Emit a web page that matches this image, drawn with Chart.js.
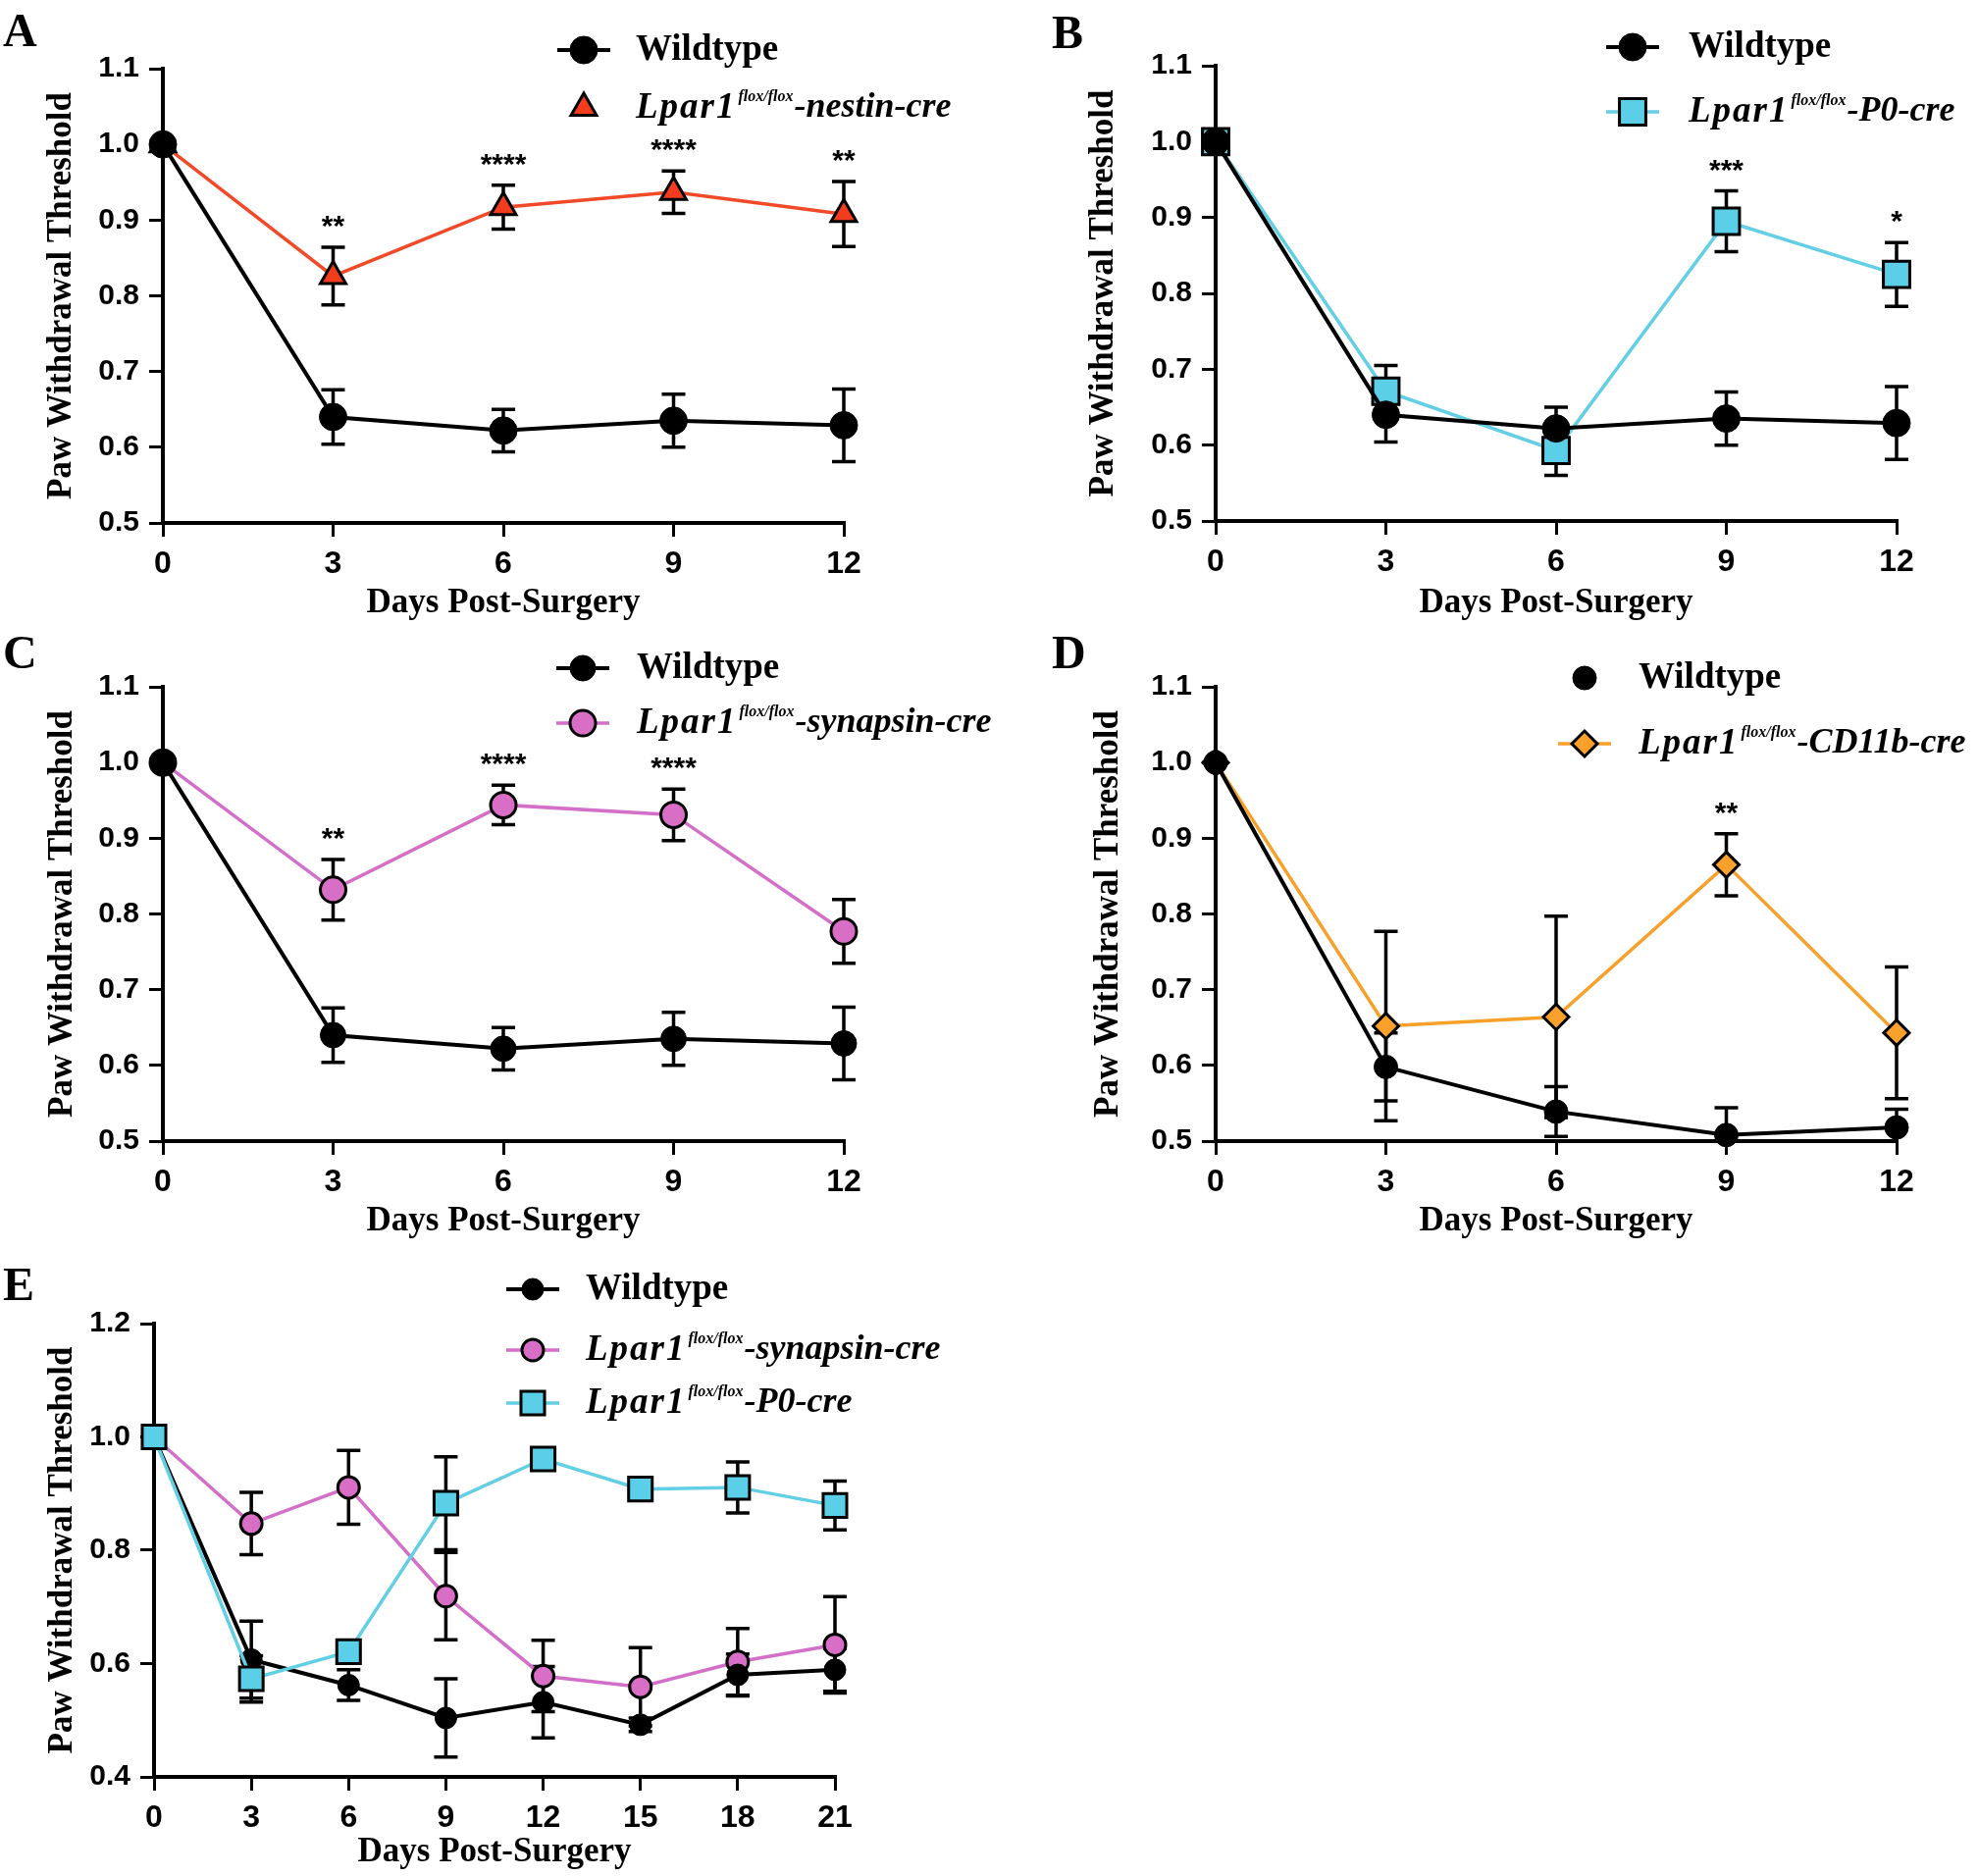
<!DOCTYPE html>
<html>
<head>
<meta charset="utf-8">
<title>Paw withdrawal threshold after surgery</title>
<script src="https://cdn.jsdelivr.net/npm/chart.js@4.4.1/dist/chart.umd.min.js"></script>
<style>
  html, body { margin: 0; padding: 0; background: #ffffff; }
  #figure { position: relative; width: 2016px; height: 1912px; overflow: hidden; background: #ffffff; }
  #figure canvas { position: absolute; }
</style>
</head>
<body>
<div id="figure">
  <canvas id="panel-a" width="1008" height="640" style="left:0px;top:0px"></canvas>
  <canvas id="panel-b" width="1008" height="640" style="left:1008px;top:0px"></canvas>
  <canvas id="panel-c" width="1040" height="640" style="left:0px;top:630px"></canvas>
  <canvas id="panel-d" width="1008" height="640" style="left:1008px;top:630px"></canvas>
  <canvas id="panel-e" width="1008" height="642" style="left:0px;top:1270px"></canvas>
</div>
<script>
'use strict';

// ******** DATA ************************************
let daysShort = [0, 3, 6, 9, 12];
let daysLong = [0, 3, 6, 9, 12, 15, 18, 21];
let yTicksShort = [0.5, 0.6, 0.7, 0.8, 0.9, 1.0, 1.1];
let yTicksLong = [0.4, 0.6, 0.8, 1.0, 1.2];

let wildtypeLabel = 'Wildtype';
let nestinLabel = 'Lpar1flox/flox-nestin-cre';
let p0Label = 'Lpar1flox/flox-P0-cre';
let synapsinLabel = 'Lpar1flox/flox-synapsin-cre';
let cd11bLabel = 'Lpar1flox/flox-CD11b-cre';

// A, B, C share the same wildtype group
let wildtypeMean = [1.0, 0.640, 0.622, 0.635, 0.629];
let wildtypeSem = [0, 0.036, 0.028, 0.035, 0.048];

// A
let nestinMean = [1.0, 0.826, 0.917, 0.937, 0.908];
let nestinSem = [0, 0.038, 0.029, 0.028, 0.043];
let nestinSig = ['', '**', '****', '****', '**'];

// B
let p0Mean = [1.0, 0.671, 0.593, 0.895, 0.825];
let p0Sem = [0, 0.034, 0.033, 0.040, 0.042];
let p0Sig = ['', '', '', '***', '*'];

// C
let synapsinMean = [1.0, 0.832, 0.944, 0.931, 0.777];
let synapsinSem = [0, 0.040, 0.026, 0.034, 0.042];
let synapsinSig = ['', '**', '****', '****', ''];

// D
let cd11bWildtypeMean = [1.0, 0.598, 0.539, 0.508, 0.518];
let cd11bWildtypeSem = [0, 0.045, 0.033, 0.036, 0.024];
let cd11bMean = [1.0, 0.652, 0.664, 0.865, 0.643];
let cd11bSem = [0, 0.125, 0.133, 0.041, 0.087];
let cd11bSig = ['', '', '', '**', ''];

// E (21 day time course)
let longWildtypeMean = [1.0, 0.607, 0.562, 0.504, 0.532, 0.492, 0.580, 0.589];
let longWildtypeSem = [0, 0.068, 0.027, 0.069, 0.063, 0.012, 0.037, 0.038];
let longSynapsinMean = [1.0, 0.847, 0.911, 0.719, 0.578, 0.559, 0.603, 0.633];
let longSynapsinSem = [0, 0.055, 0.065, 0.077, 0.063, 0.069, 0.059, 0.085];
let longP0Mean = [1.0, 0.573, 0.621, 0.883, 0.961, 0.908, 0.911, 0.879];
let longP0Sem = [0, 0.041, 0.020, 0.082, 0.010, 0.010, 0.045, 0.043];

// ******** STYLE **************
const SERIF = '"Liberation Serif", "Times New Roman", serif';
const SANS = '"Liberation Sans", Arial, sans-serif';

Chart.defaults.color = '#000000';
Chart.defaults.font.family = SANS;

let looks = {
  wildtype: { line: '#000000', fill: '#000000', shape: 'circle', radius: 13, width: 4, edge: 1 },
  nestin: { line: '#f04a28', fill: '#f23c1e', shape: 'triangle', radius: 15, width: 3.5, edge: 3 },
  p0: { line: '#62cfe4', fill: '#5ccfe8', shape: 'rect', radius: 19, width: 3.5, edge: 3 },
  synapsin: { line: '#d36fc8', fill: '#d86ec6', shape: 'circle', radius: 12, width: 3.5, edge: 3 },
  cd11b: { line: '#f7a12a', fill: '#f9a12b', shape: 'rectRot', radius: 13, width: 3.5, edge: 3 }
};

// ********* HELPERS ****************

function drawMarker(ctx, shape, x, y, r) {
  ctx.beginPath();
  if (shape === 'triangle') {
    for (let k = 0; k < 3; k++) {
      let a = k * 2 * Math.PI / 3;
      let px = x + Math.sin(a) * r;
      let py = y - Math.cos(a) * r;
      if (k === 0) ctx.moveTo(px, py); else ctx.lineTo(px, py);
    }
    ctx.closePath();
  } else if (shape === 'rect') {
    let s = r * Math.SQRT1_2;
    ctx.rect(x - s, y - s, 2 * s, 2 * s);
  } else if (shape === 'rectRot') {
    ctx.moveTo(x - r, y);
    ctx.lineTo(x, y - r);
    ctx.lineTo(x + r, y);
    ctx.lineTo(x, y + r);
    ctx.closePath();
  } else {
    ctx.arc(x, y, r, 0, Math.PI * 2);
  }
  ctx.fill();
  ctx.stroke();
}

// genotype names get a superscript "flox/flox"
function drawLabel(ctx, text, x, y) {
  let m = text.match(/^(Lpar1)(flox\/flox)(.*)$/);
  ctx.textBaseline = 'middle';
  ctx.textAlign = 'left';
  ctx.fillStyle = '#000000';
  if (!m) {
    ctx.font = 'bold 37px ' + SERIF;
    ctx.fillText(text, x, y);
    return;
  }
  ctx.font = 'italic bold 37px ' + SERIF;
  ctx.letterSpacing = '2px';
  ctx.fillText(m[1], x, y);
  x += ctx.measureText(m[1]).width + 2;
  ctx.letterSpacing = '0px';
  ctx.font = 'italic bold 16px ' + SERIF;
  ctx.fillText(m[2], x, y - 11);
  x += ctx.measureText(m[2]).width + 1;
  ctx.font = 'italic bold 36px ' + SERIF;
  ctx.fillText(m[3], x, y);
}

function series(label, look, days, mean, sem, sig, extra) {
  let ds = {
    label: label,
    data: days.map((d, i) => ({ x: d, y: mean[i] })),
    errors: sem,
    sig: sig || null,
    borderColor: look.line,
    borderWidth: look.width,
    pointStyle: look.shape,
    pointRadius: look.radius,
    pointBackgroundColor: look.fill,
    pointBorderColor: '#000000',
    pointBorderWidth: look.edge,
    tension: 0,
    clip: false
  };
  return Object.assign(ds, extra || {});
}

// ********* PLUGINS ****************

let errorBars = {
  id: 'errorBars',
  beforeDatasetsDraw(chart) {
    let ctx = chart.ctx;
    let yScale = chart.scales.y;
    ctx.save();
    ctx.strokeStyle = '#000000';
    ctx.lineWidth = 3.5;
    chart.data.datasets.forEach((ds, di) => {
      if (!ds.errors) return;
      let meta = chart.getDatasetMeta(di);
      meta.data.forEach((pt, i) => {
        let e = ds.errors[i];
        if (!e) return;
        let v = ds.data[i].y;
        let low = v - e;
        let top = yScale.getPixelForValue(v + e);
        let bottom = yScale.getPixelForValue(Math.max(low, yScale.min));
        ctx.beginPath();
        ctx.moveTo(pt.x, top);
        ctx.lineTo(pt.x, bottom);
        ctx.moveTo(pt.x - 12, top);
        ctx.lineTo(pt.x + 12, top);
        if (low >= yScale.min) {
          ctx.moveTo(pt.x - 12, bottom);
          ctx.lineTo(pt.x + 12, bottom);
        }
        ctx.stroke();
      });
    });
    ctx.restore();
  }
};

let sigMarks = {
  id: 'sigMarks',
  afterDatasetsDraw(chart) {
    let ctx = chart.ctx;
    let yScale = chart.scales.y;
    ctx.save();
    ctx.font = 'bold 30px ' + SANS;
    ctx.textAlign = 'center';
    ctx.textBaseline = 'alphabetic';
    ctx.fillStyle = '#000000';
    chart.data.datasets.forEach((ds, di) => {
      if (!ds.sig) return;
      let meta = chart.getDatasetMeta(di);
      meta.data.forEach((pt, i) => {
        if (!ds.sig[i]) return;
        let top = yScale.getPixelForValue(ds.data[i].y + ds.errors[i]);
        ctx.fillText(ds.sig[i], pt.x, top - 12);
      });
    });
    ctx.restore();
  }
};

let panelLegend = {
  id: 'panelLegend',
  afterDraw(chart, args, opts) {
    let ctx = chart.ctx;
    ctx.save();
    opts.rows.forEach((row, i) => {
      let ds = chart.data.datasets[row.dataset];
      let y = opts.y[i];
      if (row.line) {
        ctx.strokeStyle = ds.borderColor;
        ctx.lineWidth = ds.borderWidth;
        ctx.beginPath();
        ctx.moveTo(opts.x - 27, y);
        ctx.lineTo(opts.x + 27, y);
        ctx.stroke();
      }
      ctx.fillStyle = ds.pointBackgroundColor;
      ctx.strokeStyle = ds.pointBorderColor;
      ctx.lineWidth = ds.pointBorderWidth;
      drawMarker(ctx, ds.pointStyle, opts.x, y, ds.pointRadius);
      drawLabel(ctx, ds.label, opts.textX, y);
    });
    ctx.restore();
  }
};

let panelTag = {
  id: 'panelTag',
  afterDraw(chart, args, opts) {
    let ctx = chart.ctx;
    ctx.save();
    ctx.font = 'bold 48px ' + SERIF;
    ctx.fillStyle = '#000000';
    ctx.textAlign = 'left';
    ctx.textBaseline = 'alphabetic';
    ctx.fillText(opts.text, opts.x, opts.y);
    ctx.restore();
  }
};

// ********* CHART BUILDER ****************

function buildPanel(canvasId, panel) {
  let canvas = document.getElementById(canvasId);
  let [left, top, right, bottom] = panel.area;
  let w = canvas.width;
  let h = canvas.height;

  let tickGrid = {
    drawOnChartArea: false,
    drawTicks: true,
    tickLength: 14,
    color: '#000000',
    lineWidth: 3
  };

  let config = {
    type: 'line',
    data: { datasets: panel.datasets },
    options: {
      responsive: false,
      animation: false,
      events: [],
      layout: { padding: { left: 0, top: top, right: w - right, bottom: 0 } },
      scales: {
        x: {
          type: 'linear',
          min: panel.days[0],
          max: panel.days[panel.days.length - 1],
          afterBuildTicks: (scale) => { scale.ticks = panel.days.map(v => ({ value: v })); },
          afterFit: (scale) => { scale.height = h - bottom; },
          ticks: { font: { size: 32, weight: 'bold' }, color: '#000000', padding: 9, maxRotation: 0 },
          grid: tickGrid,
          border: { display: true, color: '#000000', width: 4 },
          title: {
            display: true,
            text: 'Days Post-Surgery',
            color: '#000000',
            font: { family: SERIF, size: 35, weight: 'bold' },
            padding: { top: 0, bottom: panel.xTitlePad }
          }
        },
        y: {
          min: panel.yTicks[0],
          max: panel.yTicks[panel.yTicks.length - 1],
          afterBuildTicks: (scale) => { scale.ticks = panel.yTicks.map(v => ({ value: v })); },
          afterFit: (scale) => { scale.width = left; },
          ticks: {
            font: { size: 30, weight: 'bold' },
            color: '#000000',
            padding: 10,
            callback: (v) => Number(v).toFixed(1)
          },
          grid: tickGrid,
          border: { display: true, color: '#000000', width: 4 },
          title: {
            display: true,
            text: 'Paw Withdrawal Threshold',
            color: '#000000',
            font: { family: SERIF, size: 35, weight: 'bold' },
            padding: { top: panel.yTitlePad, bottom: 0 }
          }
        }
      },
      plugins: {
        legend: { display: false },
        tooltip: { enabled: false },
        panelLegend: panel.legend,
        panelTag: panel.tag
      }
    },
    plugins: [errorBars, sigMarks, panelLegend, panelTag]
  };

  return new Chart(canvas, config);
}

// ********* PANELS ****************

buildPanel('panel-a', {
  area: [166, 70, 860, 533],
  days: daysShort,
  yTicks: yTicksShort,
  xTitlePad: 4,
  yTitlePad: 42,
  tag: { text: 'A', x: 3, y: 47 },
  legend: { x: 595, textX: 648, y: [51, 110], rows: [{ dataset: 0, line: true }, { dataset: 1, line: false }] },
  datasets: [
    series(wildtypeLabel, looks.wildtype, daysShort, wildtypeMean, wildtypeSem, null, { pointRadius: 14 }),
    series(nestinLabel, looks.nestin, daysShort, nestinMean, nestinSem, nestinSig)
  ]
});

buildPanel('panel-b', {
  area: [231, 67, 925, 531],
  days: daysShort,
  yTicks: yTicksShort,
  xTitlePad: 4,
  yTitlePad: 96,
  tag: { text: 'B', x: 64, y: 49 },
  legend: { x: 656, textX: 713, y: [48, 114], rows: [{ dataset: 0, line: true }, { dataset: 1, line: true }] },
  datasets: [
    series(wildtypeLabel, looks.wildtype, daysShort, wildtypeMean, wildtypeSem, null, { pointRadius: 14 }),
    series(p0Label, looks.p0, daysShort, p0Mean, p0Sem, p0Sig)
  ]
});

buildPanel('panel-c', {
  area: [166, 70, 860, 533],
  days: daysShort,
  yTicks: yTicksShort,
  xTitlePad: 4,
  yTitlePad: 43,
  tag: { text: 'C', x: 3, y: 51 },
  legend: { x: 594, textX: 649, y: [51, 107], rows: [{ dataset: 0, line: true }, { dataset: 1, line: true }] },
  datasets: [
    series(wildtypeLabel, looks.wildtype, daysShort, wildtypeMean, wildtypeSem),
    series(synapsinLabel, looks.synapsin, daysShort, synapsinMean, synapsinSem, synapsinSig, { pointRadius: 13 })
  ]
});

buildPanel('panel-d', {
  area: [231, 70, 925, 533],
  days: daysShort,
  yTicks: yTicksShort,
  xTitlePad: 4,
  yTitlePad: 101,
  tag: { text: 'D', x: 64, y: 51 },
  legend: { x: 607, textX: 662, y: [61, 128], rows: [{ dataset: 0, line: false }, { dataset: 1, line: true }] },
  datasets: [
    series(wildtypeLabel, looks.wildtype, daysShort, cd11bWildtypeMean, cd11bWildtypeSem, null, { pointRadius: 12 }),
    series(cd11bLabel, looks.cd11b, daysShort, cd11bMean, cd11bSem, cd11bSig)
  ]
});

buildPanel('panel-e', {
  area: [157, 79, 851, 541],
  days: daysLong,
  yTicks: yTicksLong,
  xTitlePad: 3,
  yTitlePad: 43,
  tag: { text: 'E', x: 3, y: 55 },
  legend: { x: 543, textX: 597, y: [44, 106, 160], rows: [{ dataset: 0, line: true }, { dataset: 1, line: true }, { dataset: 2, line: true }] },
  datasets: [
    series(wildtypeLabel, looks.wildtype, daysLong, longWildtypeMean, longWildtypeSem, null, { pointRadius: 11, order: 1 }),
    series(synapsinLabel, looks.synapsin, daysLong, longSynapsinMean, longSynapsinSem, null, { pointRadius: 11, order: 2 }),
    series(p0Label, looks.p0, daysLong, longP0Mean, longP0Sem, null, { pointRadius: 17, order: 0 })
  ]
});
</script>
</body>
</html>
